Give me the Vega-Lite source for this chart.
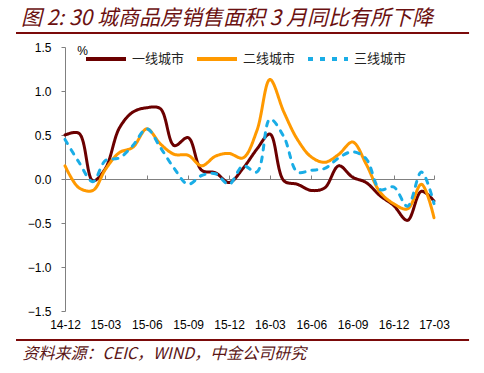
{
  "$schema": "https://vega.github.io/schema/vega-lite/v6.json",
  "width": 369,
  "height": 264,
  "autosize": {"type": "none"},
  "padding": {"left": 65, "top": 47, "right": 50, "bottom": 62},
  "background": "white",
  "title": {
    "text": "图 2: 30 城商品房销售面积 3 月同比有所下降",
    "anchor": "start",
    "frame": "group",
    "dx": -44,
    "offset": 3,
    "fontSize": 21,
    "fontStyle": "italic",
    "fontWeight": "normal",
    "color": "#6B1010",
    "font": "Noto Sans CJK SC"
  },
  "config": {"view": {"stroke": null}, "font": "Liberation Sans"},
  "layer": [
    {
      "data": {
        "values": [
          {"month": "2014-12", "一线城市": 0.50, "二线城市": 0.15, "三线城市": 0.45},
          {"month": "2015-01", "一线城市": 0.52, "二线城市": -0.10, "三线城市": 0.19},
          {"month": "2015-02", "一线城市": -0.02, "二线城市": -0.13, "三线城市": -0.03},
          {"month": "2015-03", "一线城市": 0.12, "二线城市": 0.11, "三线城市": 0.21},
          {"month": "2015-04", "一线城市": 0.58, "二线城市": 0.30, "三线城市": 0.24},
          {"month": "2015-05", "一线城市": 0.76, "二线城市": 0.36, "三线城市": 0.38},
          {"month": "2015-06", "一线城市": 0.81, "二线城市": 0.57, "三线城市": 0.57},
          {"month": "2015-07", "一线城市": 0.80, "二线城市": 0.40, "三线城市": 0.36},
          {"month": "2015-08", "一线城市": 0.38, "二线城市": 0.28, "三线城市": 0.12},
          {"month": "2015-09", "一线城市": 0.47, "二线城市": 0.27, "三线城市": -0.06},
          {"month": "2015-10", "一线城市": 0.10, "二线城市": 0.15, "三线城市": 0.04},
          {"month": "2015-11", "一线城市": 0.07, "二线城市": 0.26, "三线城市": 0.06},
          {"month": "2015-12", "一线城市": -0.04, "二线城市": 0.29, "三线城市": -0.06},
          {"month": "2016-01", "一线城市": 0.12, "二线城市": 0.24, "三线城市": 0.15},
          {"month": "2016-02", "一线城市": 0.34, "二线城市": 0.55, "三线城市": 0.08},
          {"month": "2016-03", "一线城市": 0.51, "二线城市": 1.13, "三线城市": 0.68},
          {"month": "2016-04", "一线城市": -0.02, "二线城市": 0.76, "三线城市": 0.48},
          {"month": "2016-05", "一线城市": -0.06, "二线城市": 0.45, "三线城市": 0.08},
          {"month": "2016-06", "一线城市": -0.13, "二线城市": 0.25, "三线城市": 0.10},
          {"month": "2016-07", "一线城市": -0.10, "二线城市": 0.19, "三线城市": 0.12},
          {"month": "2016-08", "一线城市": 0.15, "二线城市": 0.28, "三线城市": 0.24},
          {"month": "2016-09", "一线城市": 0.02, "二线城市": 0.42, "三线城市": 0.31},
          {"month": "2016-10", "一线城市": -0.04, "二线城市": 0.17, "三线城市": 0.23},
          {"month": "2016-11", "一线城市": -0.19, "二线城市": -0.15, "三线城市": -0.12},
          {"month": "2016-12", "一线城市": -0.30, "二线城市": -0.28, "三线城市": -0.09},
          {"month": "2017-01", "一线城市": -0.47, "二线城市": -0.34, "三线城市": -0.31},
          {"month": "2017-02", "一线城市": -0.14, "二线城市": -0.06, "三线城市": 0.08},
          {"month": "2017-03", "一线城市": -0.25, "二线城市": -0.44, "三线城市": -0.28}
        ]
      },
      "transform": [{"fold": ["一线城市", "二线城市", "三线城市"], "as": ["city", "value"]}],
      "mark": {"type": "line", "interpolate": "catmull-rom", "strokeWidth": 3, "strokeCap": "round"},
      "encoding": {
        "x": {
          "field": "month",
          "type": "temporal",
          "scale": {
            "type": "utc",
            "domain": [
              {"year": 2014, "month": 12, "date": 1, "utc": true},
              {"year": 2017, "month": 3, "date": 1, "utc": true}
            ]
          },
          "axis": {
            "values": [
              {"year": 2014, "month": 12, "date": 1, "utc": true},
              {"year": 2015, "month": 3, "date": 1, "utc": true},
              {"year": 2015, "month": 6, "date": 1, "utc": true},
              {"year": 2015, "month": 9, "date": 1, "utc": true},
              {"year": 2015, "month": 12, "date": 1, "utc": true},
              {"year": 2016, "month": 3, "date": 1, "utc": true},
              {"year": 2016, "month": 6, "date": 1, "utc": true},
              {"year": 2016, "month": 9, "date": 1, "utc": true},
              {"year": 2016, "month": 12, "date": 1, "utc": true},
              {"year": 2017, "month": 3, "date": 1, "utc": true}
            ],
            "labelExpr": "utcFormat(datum.value, '%y-%m')",
            "offset": -132,
            "tickSize": -4,
            "tickColor": "#808080",
            "domainColor": "#808080",
            "labelFontSize": 12,
            "labelColor": "#000000",
            "labelPadding": 144,
            "labelFlush": false,
            "labelOverlap": false,
            "grid": false,
            "title": "资料来源：CEIC，WIND，中金公司研究",
            "titleX": -43,
            "titleY": 179,
            "titleAlign": "left",
            "titleAnchor": "start",
            "titleBaseline": "alphabetic",
            "titleFontStyle": "italic",
            "titleFontWeight": "normal",
            "titleFontSize": 16,
            "titleColor": "#5B1515",
            "titleFont": "Noto Sans CJK SC"
          }
        },
        "y": {
          "field": "value",
          "type": "quantitative",
          "scale": {"domain": [-1.5, 1.5], "nice": false, "zero": false},
          "axis": {
            "values": [-1.5, -1, -0.5, 0, 0.5, 1, 1.5],
            "format": ".1f",
            "tickSize": 4,
            "labelPadding": 10,
            "domainColor": "#808080",
            "tickColor": "#808080",
            "grid": false,
            "labelFontSize": 12,
            "labelColor": "#000000",
            "title": "%",
            "titleAngle": 0,
            "titleX": 17,
            "titleY": 3,
            "titleAlign": "center",
            "titleBaseline": "middle",
            "titleFontWeight": "normal",
            "titleFontSize": 12,
            "titleColor": "#000000"
          }
        },
        "color": {
          "field": "city",
          "type": "nominal",
          "scale": {"domain": ["一线城市", "二线城市", "三线城市"], "range": ["#6B0000", "#FF9900", "#1AADE6"]},
          "legend": {
            "orient": "none",
            "legendX": 19,
            "legendY": -10,
            "direction": "horizontal",
            "title": null,
            "symbolType": "stroke",
            "symbolSize": 1600,
            "symbolStrokeWidth": 4,
            "labelFontSize": 13,
            "labelFont": "Noto Sans CJK SC",
            "labelColor": "#222222",
            "columnPadding": 4,
            "labelOffset": 4
          }
        },
        "strokeDash": {
          "field": "city",
          "type": "nominal",
          "scale": {"domain": ["一线城市", "二线城市", "三线城市"], "range": [[1, 0], [1, 0], [5, 7]]},
          "legend": {
            "orient": "none",
            "legendX": 19,
            "legendY": -10,
            "direction": "horizontal",
            "title": null,
            "symbolType": "stroke",
            "symbolSize": 1600,
            "symbolStrokeWidth": 4,
            "labelFontSize": 13,
            "labelFont": "Noto Sans CJK SC",
            "labelColor": "#222222",
            "columnPadding": 4,
            "labelOffset": 4
          }
        }
      }
    },
    {
      "data": {"values": [{}]},
      "mark": {"type": "rule", "color": "#7B0A0A", "strokeWidth": 2},
      "encoding": {
        "x": {"datum": {"year": 2014, "month": 8, "date": 14, "utc": true}, "type": "temporal"},
        "x2": {"datum": {"year": 2017, "month": 5, "date": 18, "utc": true}},
        "y": {"datum": 1.66, "type": "quantitative"}
      }
    },
    {
      "data": {"values": [{}]},
      "mark": {"type": "rule", "color": "#7B0A0A", "strokeWidth": 2},
      "encoding": {
        "x": {"datum": {"year": 2014, "month": 8, "date": 14, "utc": true}, "type": "temporal"},
        "x2": {"datum": {"year": 2017, "month": 5, "date": 18, "utc": true}},
        "y": {"datum": -1.83, "type": "quantitative"}
      }
    }
  ]
}
